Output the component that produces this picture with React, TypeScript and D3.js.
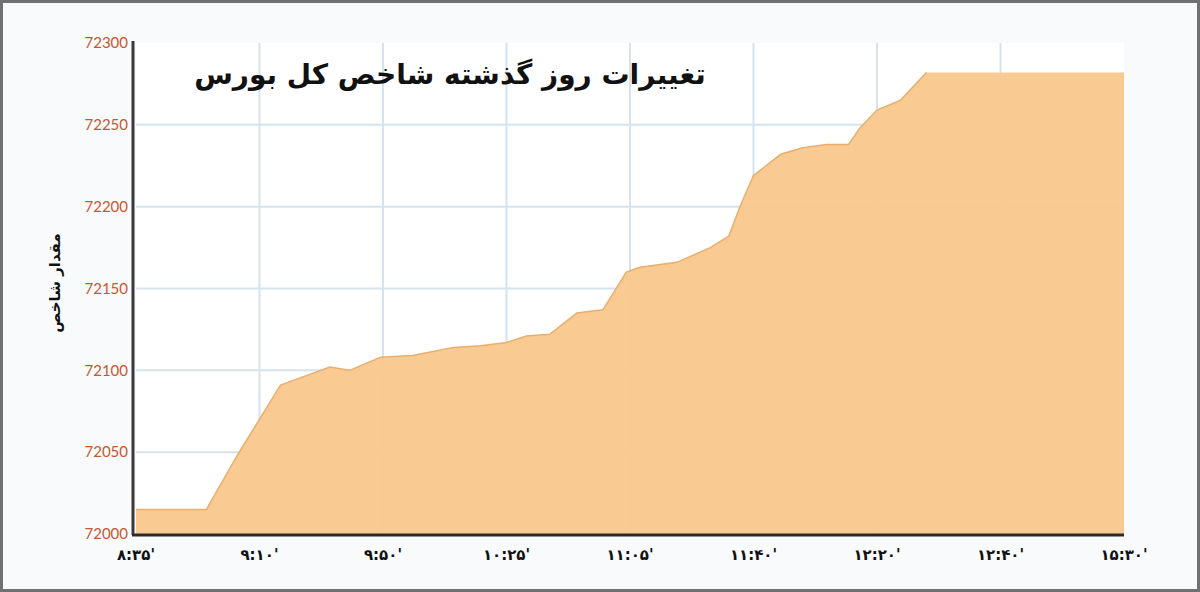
import { useEffect, useRef } from 'react';
import * as d3 from 'd3';

// برچسب‌های محور افقی (زمان)
const timeLabels: string[] = [
  '۸:۳۵\'',
  '۹:۱۰\'',
  '۹:۵۰\'',
  '۱۰:۲۵\'',
  '۱۱:۰۵\'',
  '۱۱:۴۰\'',
  '۱۲:۲۰\'',
  '۱۲:۴۰\'',
  '۱۵:۳۰\'',
];

// موقعیت نقطه روی محور زمان (بر حسب شماره برچسب)
const positions: number[] = [
  0, 0.57, 0.82, 1.17, 1.57, 1.73, 1.98, 2.24, 2.57, 2.79, 3.0, 3.16, 3.35,
  3.57, 3.78, 3.97, 4.08, 4.38, 4.65, 4.8, 4.89, 5.0, 5.22, 5.4, 5.59, 5.77,
  5.86, 6.0, 6.19, 6.4, 8,
];

// مقدار شاخص
const indexValues: number[] = [
  72015, 72015, 72048, 72091, 72102, 72100, 72108, 72109, 72114, 72115, 72117,
  72121, 72122, 72135, 72137, 72160, 72163, 72166, 72175, 72182, 72200, 72219,
  72232, 72236, 72238, 72238, 72248, 72259, 72265, 72282, 72282,
];

const yTicks: number[] = [72000, 72050, 72100, 72150, 72200, 72250, 72300];

const title = 'تغییرات روز گذشته شاخص کل بورس';
const yTitle = 'مقدار شاخص';

const App: React.FC = () => {
  const svgRef = useRef<SVGSVGElement | null>(null);

  useEffect(() => {
    if (svgRef.current === null) return;
    const width = 1200;
    const height = 592;

    const svg = d3.select(svgRef.current).attr('width', width).attr('height', height);
    svg.selectAll('*').remove();

    // پس‌زمینه و قاب
    svg
      .append('rect')
      .attr('x', 1.5)
      .attr('y', 1.5)
      .attr('width', width - 3)
      .attr('height', height - 3)
      .attr('fill', '#f9fafc')
      .attr('stroke', '#707070')
      .attr('stroke-width', 3);

    const x = d3.scaleLinear().domain([0, timeLabels.length - 1]).range([136, 1124]);
    const y = d3.scaleLinear().domain([72000, 72300]).range([534, 43]);

    // ناحیه نمودار
    svg
      .append('rect')
      .attr('x', x(0))
      .attr('y', y(72300))
      .attr('width', x(8) - x(0))
      .attr('height', y(72000) - y(72300))
      .attr('fill', '#ffffff');

    const data = positions.map((p, i) => ({ p, v: indexValues[i] }));

    const area = d3
      .area<{ p: number; v: number }>()
      .x((d) => x(d.p))
      .y0(y(72000))
      .y1((d) => y(d.v));

    const line = d3
      .line<{ p: number; v: number }>()
      .x((d) => x(d.p))
      .y((d) => y(d.v));

    // خطوط شبکه زیر ناحیه
    const grid = svg.append('g');
    grid
      .selectAll('.h-grid')
      .data(yTicks.slice(1, -1))
      .enter()
      .append('line')
      .attr('x1', x(0))
      .attr('x2', x(8))
      .attr('y1', (d) => y(d))
      .attr('y2', (d) => y(d))
      .attr('stroke', '#d5e3ee')
      .attr('stroke-width', 2);
    grid
      .selectAll('.v-grid')
      .data(d3.range(1, timeLabels.length - 1))
      .enter()
      .append('line')
      .attr('x1', (d) => x(d))
      .attr('x2', (d) => x(d))
      .attr('y1', y(72300))
      .attr('y2', y(72000))
      .attr('stroke', '#d5e3ee')
      .attr('stroke-width', 2);

    svg.append('path').datum(data).attr('d', area).attr('fill', '#fac78c').attr('fill-opacity', 0.94);
    svg
      .append('path')
      .datum(data.slice(0, -1))
      .attr('d', line)
      .attr('fill', 'none')
      .attr('stroke', '#e8af70')
      .attr('stroke-width', 1.5);

    // محورها
    svg
      .append('line')
      .attr('x1', 133)
      .attr('x2', 133)
      .attr('y1', y(72300) - 2)
      .attr('y2', y(72000) + 1)
      .attr('stroke', '#3a3a3a')
      .attr('stroke-width', 3);
    svg
      .append('line')
      .attr('x1', 132)
      .attr('x2', x(8))
      .attr('y1', y(72000) + 1)
      .attr('y2', y(72000) + 1)
      .attr('stroke', '#2b2b2b')
      .attr('stroke-width', 3);

    // برچسب‌های محور عمودی
    svg
      .selectAll('.y-label')
      .data(yTicks)
      .enter()
      .append('text')
      .attr('x', 128)
      .attr('y', (d) => y(d))
      .attr('dy', '0.35em')
      .attr('text-anchor', 'end')
      .attr('fill', '#c4582c')
      .style('font-family', 'Lato, sans-serif')
      .style('font-size', '15px')
      .text((d) => String(d));

    // برچسب‌های محور افقی
    svg
      .selectAll('.x-label')
      .data(timeLabels)
      .enter()
      .append('text')
      .attr('x', (_d, i) => x(i))
      .attr('y', 560)
      .attr('text-anchor', 'middle')
      .attr('fill', '#111')
      .style('font-family', '"DejaVu Sans", sans-serif')
      .style('font-size', '15px')
      .style('font-weight', 'bold')
      .text((d) => d);

    // عنوان
    svg
      .append('text')
      .attr('x', 450)
      .attr('y', 84)
      .attr('text-anchor', 'middle')
      .attr('fill', '#111')
      .style('font-family', '"DejaVu Sans", sans-serif')
      .style('font-size', '28px')
      .style('font-weight', 'bold')
      .text(title);

    svg
      .append('text')
      .attr('transform', 'translate(60,283) rotate(-90)')
      .attr('text-anchor', 'middle')
      .attr('fill', '#111')
      .style('font-family', '"DejaVu Sans", sans-serif')
      .style('font-size', '15px')
      .style('font-weight', 'bold')
      .text(yTitle);
  }, []);

  return <svg ref={svgRef} style={{ position: 'absolute', left: 0, top: 0 }}></svg>;
};

export default App;
